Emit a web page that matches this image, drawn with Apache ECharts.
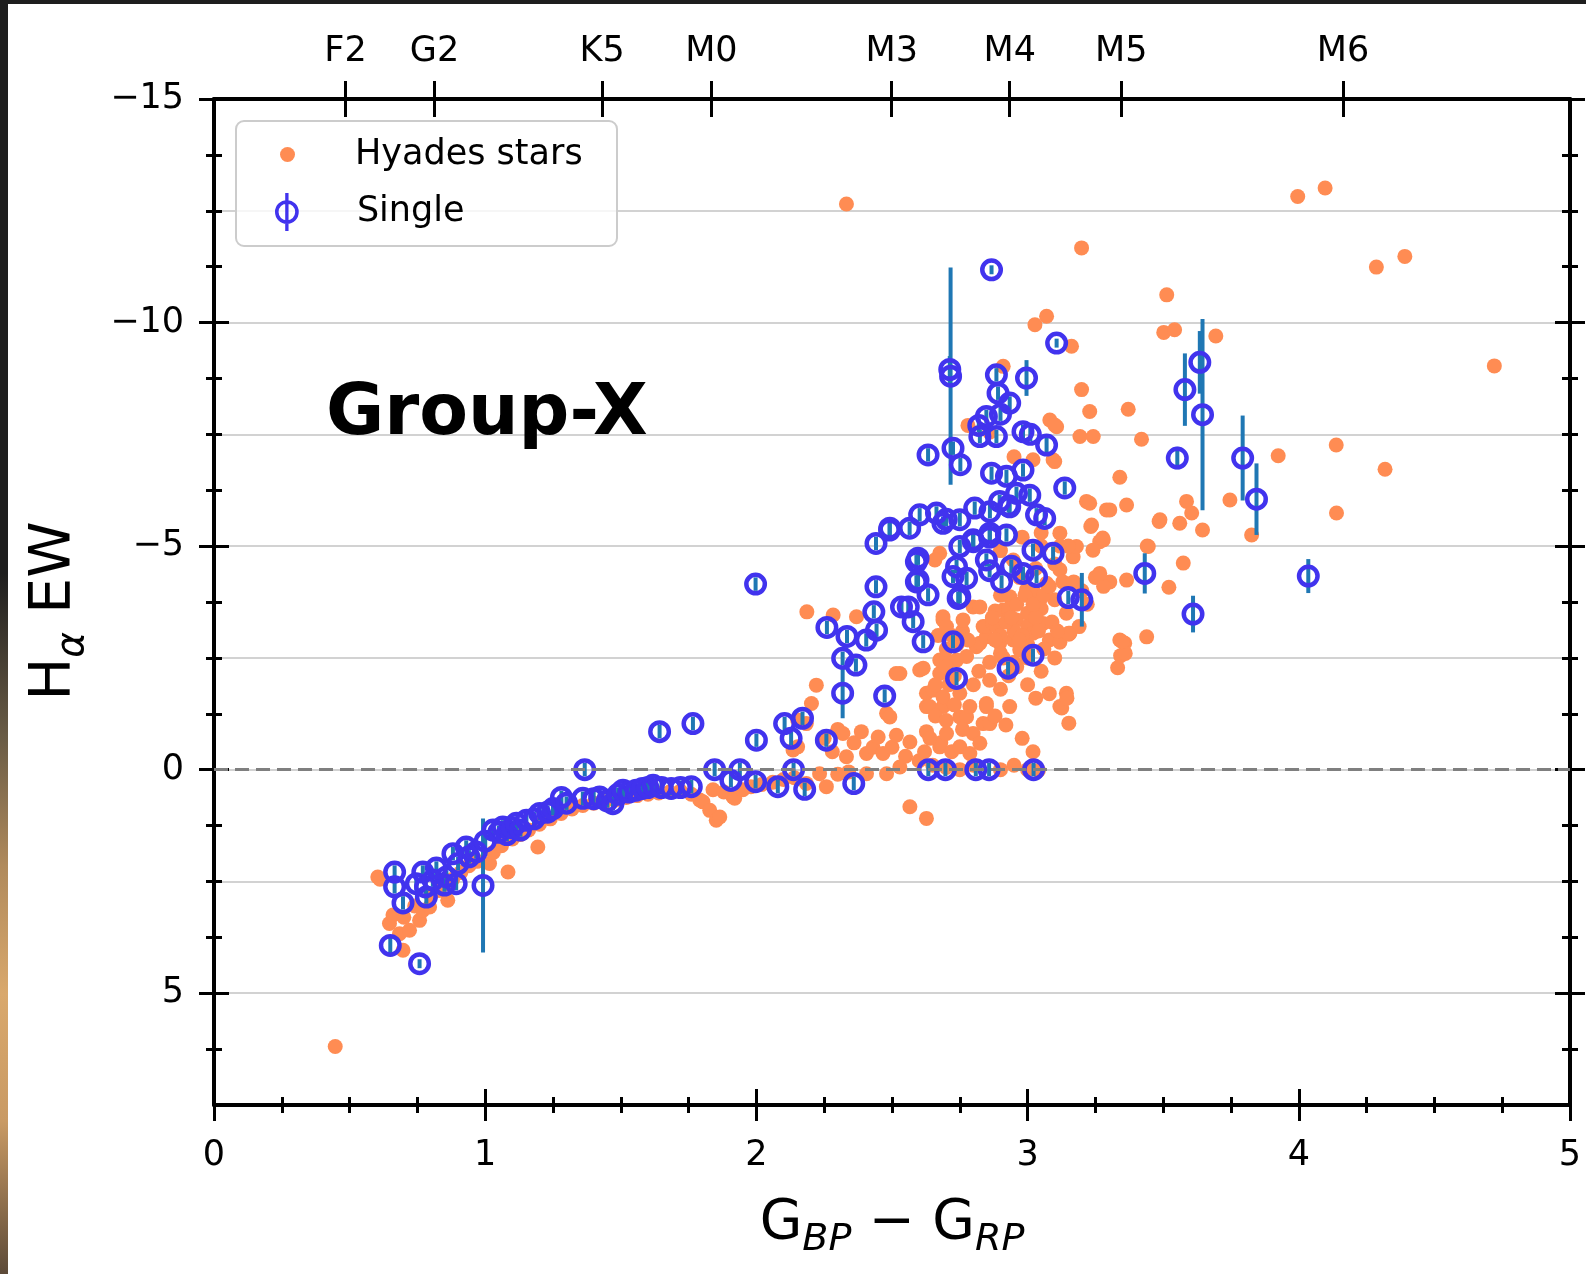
<!DOCTYPE html>
<html>
<head>
<meta charset="utf-8">
<title>Group-X</title>
<script src="https://cdn.jsdelivr.net/npm/echarts@6.0.0/dist/echarts.min.js"></script>
<style>
  html, body { margin: 0; padding: 0; width: 1586px; height: 1274px; overflow: hidden; background: #1e1e1e; }
  #edge { position: absolute; left: 0; top: 0; width: 8px; height: 1274px;
          background: linear-gradient(to bottom, #1e1e1e 0%, #1e1e1e 45%, #6a5c46 58%, #b08a5c 68%, #d9a86c 78%, #c99a64 88%, #5c4a38 100%); }
  #main { position: absolute; left: 8px; top: 4px; width: 1578px; height: 1270px; background: #fff; }
</style>
</head>
<body>
<div id="edge"></div>
<div id="main"></div>
<script>
// Hyades stars (G_BP - G_RP, H-alpha EW)
var hyadesLower = [
  [0.447,6.19],[0.604,2.40],[0.612,2.45],[0.647,3.44],[0.66,3.25],[0.684,3.67],[0.697,4.04],[0.70,3.30],
  [0.721,3.59],[0.74,3.05],[0.758,3.37],[0.77,3.15],[0.795,3.07],[0.80,2.80],[0.83,2.70],[0.862,2.92],
  [0.86,2.55],[0.88,2.45],[0.91,2.30],[0.94,2.15],[0.97,2.05],[1.016,2.10],[1.03,1.85],[1.06,1.70],
  [1.084,2.29],[1.10,1.55],[1.13,1.45],[1.16,1.35],[1.194,1.73],[1.20,1.22],[1.24,1.10],[1.28,0.98],
  [1.32,0.88],[1.36,0.80],[1.40,0.75],[1.44,0.72],[1.48,0.68],[1.52,0.62],[1.56,0.58],[1.60,0.55],
  [1.64,0.52],[1.68,0.50],[1.72,0.48],[1.76,0.55],[1.791,0.68],[1.803,0.72],[1.828,0.91],[1.852,1.13],
  [1.84,0.45],[1.865,1.06],[1.88,0.50],[1.914,0.61],[1.920,0.64],[1.95,0.45],[1.98,0.38],[2.02,0.33],
  [2.06,0.28],[2.10,0.22],[2.14,0.18],[2.184,0.31],[2.233,0.09],[2.258,0.38],[2.30,0.10],[2.34,0.05]
];
var hyadesMiddle = [
  [2.135,-0.44],[2.152,-0.51],[2.152,-1.11],[2.184,-1.03],[2.203,-1.48],[2.221,-1.89],[2.186,-3.53],[2.283,-3.46],
  [2.369,-3.42],[2.25,-0.70],[2.28,-0.40],[2.30,-0.90],[2.319,-0.81],[2.332,-0.29],[2.36,-0.60],[2.387,-0.85],
  [2.406,-0.36],[2.406,0.09],[2.43,-0.50],[2.449,-0.73],[2.467,-0.36],[2.480,0.09],[2.480,-1.26],[2.492,-1.18],
  [2.50,-0.50],[2.516,-0.77],[2.529,-0.06],[2.529,-2.15],[2.515,-2.15],[2.55,-0.30],[2.566,-0.62],[2.566,0.83],
  [2.60,-0.20],[2.602,-2.23],[2.615,-2.27],[2.627,1.09],[2.62,-0.40],[2.627,-0.85],[2.627,-1.41],[2.627,-1.71],
  [2.639,-1.41],[2.652,-1.78],[2.65,-0.10],[2.676,-0.51],[2.676,-2.15],[2.676,-2.45],[2.68,-0.60],[2.688,-1.41],
  [2.688,-1.63],[2.70,-0.05],[2.701,-0.81],[2.701,-2.45],[2.72,-0.40],[2.738,-2.45],[2.750,-0.51],[2.750,-1.18],
  [2.750,-1.71],[2.75,0.0],[2.775,-1.18],[2.775,-2.53],[2.787,-0.36],[2.787,-1.41],[2.799,-0.81],[2.80,-0.10],
  [2.811,-2.75],[2.824,-0.59],[2.824,-2.83],[2.836,-1.03],[2.848,-1.41],[2.848,-1.48],[2.848,-2.97],[2.861,-1.03],
  [2.90,0.0],[2.934,-1.41],[2.95,-0.10],[3.00,0.0],[3.04,0.02],[2.88,-1.20],[2.92,-1.00],[2.98,-0.70],[3.02,-0.40],
  [2.67,-3.00],[2.70,-2.70],[2.72,-3.00],[2.74,-2.80],[2.76,-3.10],[2.78,-2.90],[2.70,-2.30],[2.73,-2.10],
  [2.66,-1.90],[2.71,-1.90],[2.66,-1.20],[2.70,-1.10],[2.73,-1.45],[2.76,-0.90],[2.64,-0.70]
];
var hyadesCluster = [
  [2.688,-3.35],[2.688,-3.42],[2.701,-3.20],[2.762,-3.35],[2.799,-3.64],[2.824,-3.64],[2.836,-3.20],[2.848,-3.20],
  [2.873,-3.27],[2.885,-3.20],[2.897,-2.83],[2.910,-3.57],[2.934,-3.87],[2.947,-2.90],[2.959,-3.35],[2.971,-2.68],
  [2.996,-4.02],[3.00,-3.50],[3.00,-3.20],[3.00,-2.80],[3.020,-3.05],[3.045,-3.79],[3.05,-3.60],[3.057,-3.27],
  [3.070,-4.17],[3.08,-2.90],[3.10,-3.80],[3.119,-4.47],[3.13,-4.20],[3.143,-3.50],[3.156,-3.05],[3.168,-4.76],
  [3.180,-4.99],[2.95,-3.10],[2.90,-2.60],[2.95,-2.40],[2.90,-3.90],[2.97,-4.30],[3.03,-4.50],[3.10,-4.60],
  [3.05,-5.00],[3.12,-5.00],[2.98,-5.20],[2.90,-4.90],[2.947,-4.69],[2.676,-4.84],[2.658,-4.69],[3.143,-1.71],
  [3.119,-1.41],[3.152,-1.04],[3.126,-1.38],[3.145,-1.60],[3.119,-2.85],[3.152,-3.03],[3.332,-2.28],[3.343,-2.55],
  [3.358,-2.83],[3.340,-2.90],[3.439,-2.97],[3.36,-2.60],[3.19,-3.20],[3.20,-4.00],[3.25,-4.30],[3.22,-3.70],
  [3.303,-4.20],[3.365,-4.24],[3.28,-4.10],[3.17,-4.20],[3.15,-5.00],[3.05,-5.30],[3.279,-5.14],[3.266,-5.10],
  [3.445,-4.99],[3.574,-4.62],[3.521,-4.08],[3.266,-4.39],[3.241,-4.91],[3.02,-4.00],[2.88,-3.55],[2.92,-3.30],
  [2.98,-3.00],[3.03,-3.40],[2.86,-2.40],[2.82,-2.20],[2.80,-1.90],[2.86,-2.00],[2.90,-1.80],[2.93,-2.10],
  [2.96,-2.30],[3.00,-2.50],[3.05,-2.20],[3.10,-2.50],[3.00,-1.90],[3.03,-1.60],[3.08,-1.70],[3.349,-2.86],[3.151,-3.05],
  [2.87,-3.40],[2.90,-3.00],[2.93,-3.60],[2.96,-3.70],[2.99,-3.90],[3.02,-3.70],[3.06,-3.90],[3.08,-4.10],
  [3.04,-3.10],[2.97,-2.90],[2.94,-3.40],[3.06,-2.70],[3.09,-3.30],[3.11,-3.10],[2.88,-2.90],[2.91,-2.50]
];
var hyadesUpper = [
  [3.020,-6.93],[3.094,-6.93],[3.100,-6.89],[3.119,-5.29],[3.217,-6.00],[3.291,-5.81],[3.236,-5.47],[3.229,-5.96],
  [3.303,-5.81],[3.365,-5.92],[3.233,-5.44],[3.277,-5.18],[3.340,-6.54],[3.107,-7.67],[3.082,-7.82],[3.100,-7.71],
  [3.193,-7.45],[3.242,-7.45],[3.229,-8.01],[3.199,-8.50],[3.162,-9.47],[3.027,-9.95],[3.070,-10.14],[3.199,-11.67],
  [2.910,-9.02],[3.371,-8.06],[3.420,-7.39],[2.332,-12.65],[2.86,-7.55],[2.95,-7.00],[2.78,-7.70]
];
var hyadesRed = [
  [3.996,-12.82],[4.097,-13.01],[4.286,-11.24],[4.391,-11.48],[4.721,-9.03],[3.513,-10.62],[3.502,-9.78],[3.542,-9.84],
  [3.694,-9.70],[4.138,-7.26],[4.318,-6.72],[3.924,-7.02],[4.139,-5.74],[3.485,-5.55],[3.561,-5.51],[3.586,-6.00],
  [3.605,-5.74],[3.645,-5.36],[3.746,-6.03],[3.826,-5.25],[3.441,-5.00],[3.488,-5.59]
];
var hyadesStars = hyadesLower.concat(hyadesMiddle, hyadesCluster, hyadesUpper, hyadesRed);

// Single stars: [G_BP - G_RP, H-alpha EW, error]
var singleLower = [
  [0.650,3.93,0.2],[0.758,4.34,0.1],[0.666,2.29,0.15],[0.770,2.29,0.15],[0.666,2.62,0.15],[0.697,2.98,0.15],
  [0.783,2.85,0.15],[0.746,2.55,0.15],[0.78,2.62,0.15],[0.807,2.47,0.15],[0.85,2.58,0.15],[0.857,2.40,0.15],
  [0.893,2.55,0.15],[0.82,2.20,0.15],[0.881,1.88,0.15],[0.90,2.10,0.15],[0.930,1.73,0.15],[0.94,1.95,0.15],
  [0.967,1.84,0.15],[0.992,2.59,1.5],[1.0,1.60,0.15],[1.029,1.35,0.15],[1.05,1.40,0.15],[1.065,1.28,0.15],
  [1.08,1.45,0.15],[1.10,1.30,0.15],[1.115,1.20,0.15],[1.13,1.35,0.15],[1.152,1.13,0.15],[1.18,1.10,0.15],
  [1.201,0.98,0.15],[1.23,0.95,0.15],[1.250,0.87,0.15],[1.281,0.62,0.15],[1.30,0.75,0.15],[1.360,0.64,0.15],
  [1.367,0.0,0.15],[1.40,0.65,0.15],[1.422,0.61,0.15],[1.45,0.70,0.15],[1.471,0.76,0.15],[1.49,0.55,0.15],
  [1.508,0.46,0.15],[1.53,0.50,0.15],[1.557,0.46,0.15],[1.58,0.42,0.15],[1.60,0.40,0.15],[1.619,0.35,0.15],
  [1.65,0.40,0.15],[1.686,0.42,0.15],[1.72,0.40,0.15],[1.760,0.38,0.15],[1.846,0.0,0.15],[1.643,-0.85,0.15],
  [1.766,-1.03,0.15]
];
var singleMiddle = [
  [1.997,-4.15,0.15],[1.906,0.24,0.15],[1.939,0.0,0.15],[1.997,0.27,0.15],[2.079,0.38,0.15],[2.137,0.0,0.15],
  [2.178,0.44,0.15],[2.359,0.31,0.15],[2.104,-1.03,0.15],[2.170,-1.15,0.15],[2.128,-0.70,0.15],[2.000,-0.66,0.15],
  [2.258,-0.66,0.15],[2.260,-3.18,0.15],[2.334,-2.98,0.15],[2.405,-2.90,0.15],[2.318,-2.49,0.15],[2.367,-2.34,0.15],
  [2.318,-1.71,0.56],[2.473,-1.65,0.15],[2.441,-4.09,0.15],[2.433,-3.53,0.15],[2.491,-5.36,0.15],[2.441,-5.06,0.15],
  [2.443,-3.12,0.15],[2.535,-3.64,0.15],[2.56,-3.64,0.15],[2.578,-3.31,0.15],[2.615,-2.86,0.15],[2.590,-4.20,0.15],
  [2.633,-3.91,0.15],[2.590,-4.65,0.15],[2.725,-2.86,0.15],[2.738,-2.04,0.15],[2.744,-3.83,0.15],[2.634,0.0,0.15],
  [2.697,0.0,0.15],[2.809,0.0,0.15],[2.858,0.0,0.15],[3.022,0.0,0.15],[2.928,-2.27,0.15],[3.020,-2.56,0.15]
];
var singleUpper = [
  [2.633,-7.04,0.15],[2.725,-7.19,0.15],[2.752,-6.82,0.15],[2.867,-6.63,0.15],[2.922,-6.56,0.15],[2.983,-6.70,0.15],
  [3.070,-7.26,0.2],[3.137,-6.30,0.15],[2.492,-5.40,0.15],[2.565,-5.40,0.15],[2.602,-5.70,0.15],[2.664,-5.74,0.15],
  [2.70,-5.60,0.15],[2.750,-5.59,0.15],[2.805,-5.85,0.15],[2.861,-5.77,0.15],[2.897,-6.00,0.15],[2.93,-5.90,0.15],
  [2.959,-6.18,0.15],[3.008,-6.14,0.15],[3.033,-5.70,0.15],[3.063,-5.62,0.15],[2.596,-4.73,0.15],[2.596,-4.24,0.15],
  [2.750,-4.99,0.15],[2.80,-5.10,0.15],[2.86,-5.20,0.15],[2.922,-5.25,0.15],[2.738,-4.54,0.15],[2.725,-4.32,0.15],
  [2.775,-4.28,0.15],[2.848,-4.69,0.15],[2.750,-3.87,0.15],[2.904,-4.20,0.15],[2.983,-4.39,0.15],[3.033,-4.32,0.15],
  [3.020,-4.91,0.15],[3.094,-4.84,0.15],[3.15,-3.85,0.15],[3.20,-3.80,0.6],
  [2.799,-5.14,0.15],[2.861,-5.29,0.15],[2.934,-5.88,0.15],[2.688,-5.51,0.15],[2.86,-4.45,0.15],[2.94,-4.55,0.15]
];
var singleTop = [
  [2.867,-11.18,0.1],[2.716,-8.80,2.43],[2.713,-8.95,0.3],[3.107,-9.54,0.1],[2.885,-8.83,0.15],[2.996,-8.76,0.4],
  [2.891,-8.42,0.15],[2.934,-8.20,0.15],[2.90,-7.95,0.15],[2.848,-7.90,0.15],[2.82,-7.70,0.15],[2.824,-7.45,0.15],
  [2.885,-7.45,0.15],[2.983,-7.56,0.15],[3.01,-7.50,0.15]
];
var singleRed = [
  [3.635,-9.11,0.7],[3.580,-8.50,0.81],[3.645,-7.94,2.14],[3.552,-6.97,0.25],[3.793,-6.97,0.95],[3.844,-6.05,0.8],
  [3.432,-4.39,0.45],[3.610,-3.48,0.41],[4.035,-4.33,0.38]
];
var singleStars = singleLower.concat(singleMiddle, singleUpper, singleTop, singleRed);

// tick values
var xMajor = [0, 1, 2, 3, 4, 5];
var xMinor = [0.25,0.5,0.75,1.25,1.5,1.75,2.25,2.5,2.75,3.25,3.5,3.75,4.25,4.5,4.75];
var yMajor = [-15, -10, -5, 0, 5];
var yMinor = [-13.75,-12.5,-11.25,-8.75,-7.5,-6.25,-3.75,-2.5,-1.25,1.25,2.5,3.75,6.25];
var specNames = ['F2', 'G2', 'K5', 'M0', 'M3', 'M4', 'M5', 'M6'];
var specPos = [0.485, 0.813, 1.431, 1.834, 2.499, 2.934, 3.345, 4.163];

var myChart = echarts.init(document.getElementById('main'));
var FONT = 'DejaVu Sans';
var BLUE = '#4133ee';

function minus(v) { return String(v).replace('-', '\u2212'); }

// one axis that only draws ticks (used in pairs so ticks cross the spine)
function tickX(pos, inside, vals, len) {
  return {
    type: 'value', position: pos, min: 0, max: 5,
    axisLine: {show: false, onZero: false},
    axisTick: {show: true, inside: inside, length: len, customValues: vals, lineStyle: {color: '#000', width: 3}},
    axisLabel: {show: false}, splitLine: {show: false}
  };
}
function tickY(pos, inside, vals, len) {
  return {
    type: 'value', position: pos, min: -15, max: 7.5, inverse: true,
    axisLine: {show: false, onZero: false},
    axisTick: {show: true, inside: inside, length: len, customValues: vals, lineStyle: {color: '#000', width: 3}},
    axisLabel: {show: false}, splitLine: {show: false}
  };
}
function spine() {
  return {show: true, onZero: false, lineStyle: {color: '#000', width: 4}};
}

var xBottom = tickX('bottom', false, xMajor, 16);
xBottom.axisLine = spine();
xBottom.axisLabel = {show: true, customValues: xMajor, fontSize: 35, color: '#000', margin: 33, fontFamily: FONT};
xBottom.name = '{g|G}{s|BP}{g| \u2212 G}{s|RP}';
xBottom.nameLocation = 'middle';
xBottom.nameGap = 91;
xBottom.nameTextStyle = {
  fontFamily: FONT, color: '#000',
  rich: {
    g: {fontSize: 55, lineHeight: 64, verticalAlign: 'top', fontFamily: FONT, color: '#000'},
    s: {fontSize: 38, fontStyle: 'italic', lineHeight: 40, padding: [25, 0, 0, 0], verticalAlign: 'top', fontFamily: FONT, color: '#000'}
  }
};

var xTop = tickX('top', false, specPos, 18);
xTop.axisLine = spine();
xTop.axisLabel = {
  show: true, customValues: specPos, fontSize: 35, color: '#000', margin: 30, fontFamily: FONT,
  formatter: function (v) {
    var best = 0;
    for (var i = 1; i < specPos.length; i++) {
      if (Math.abs(specPos[i] - v) < Math.abs(specPos[best] - v)) best = i;
    }
    return specNames[best];
  }
};

var yLeft = tickY('left', false, yMajor, 15);
yLeft.axisLine = spine();
yLeft.axisLabel = {show: true, customValues: yMajor, fontSize: 35, color: '#000', margin: 30, fontFamily: FONT, formatter: minus};
yLeft.name = '{h|H}{a|\u03b1}{h| EW}';
yLeft.nameLocation = 'middle';
yLeft.nameRotate = 90;
yLeft.nameGap = 121;
yLeft.nameTextStyle = {
  fontFamily: FONT, color: '#000', padding: [0, 18, 0, 0],
  rich: {
    h: {fontSize: 57, lineHeight: 66, verticalAlign: 'top', fontFamily: FONT, color: '#000'},
    a: {fontSize: 39, fontStyle: 'italic', lineHeight: 42, padding: [26, 0, 0, 0], verticalAlign: 'top', fontFamily: FONT, color: '#000'}
  }
};

var yRight = tickY('right', false, yMajor, 15);
yRight.axisLine = spine();

// horizontal grid lines every 2.5
var yGrid = {
  type: 'value', position: 'left', min: -15, max: 7.5, interval: 2.5, inverse: true,
  axisLine: {show: false, onZero: false}, axisTick: {show: false}, axisLabel: {show: false},
  splitLine: {show: true, lineStyle: {color: '#d2d2d2', width: 2}}
};

var ringIcon = 'path://M0,-10 A10,10 0 1,1 0,10 A10,10 0 1,1 0,-10 Z M0,-7 A7,7 0 1,0 0,7 A7,7 0 1,0 0,-7 Z M-1.4,-16 L1.4,-16 L1.4,16 L-1.4,16 Z';

var option = {
  animation: false,
  backgroundColor: '#fff',
  textStyle: {fontFamily: FONT},
  title: {
    text: 'Group-X', left: 313, top: 371,
    textStyle: {fontSize: 71, fontWeight: 'bold', color: '#000', fontFamily: FONT}
  },
  grid: {left: 206, top: 95, width: 1356, height: 1006, containLabel: false, outerBoundsMode: 'none'},
  xAxis: [xBottom, tickX('bottom', true, xMajor, 16), tickX('bottom', false, xMinor, 8), tickX('bottom', true, xMinor, 8),
          xTop, tickX('top', true, specPos, 18)],
  yAxis: [yLeft, tickY('left', true, yMajor, 15), tickY('left', false, yMinor, 8), tickY('left', true, yMinor, 8),
          yRight, tickY('right', true, yMajor, 15), tickY('right', false, yMinor, 8), tickY('right', true, yMinor, 8),
          yGrid],
  graphic: [{
    type: 'rect', z: 5,
    shape: {x: 228, y: 117, width: 381, height: 125, r: 8},
    style: {fill: 'rgba(255,255,255,0.8)', stroke: '#cccccc', lineWidth: 2}
  }],
  legend: [{
    data: [{name: 'Hyades stars', icon: 'circle'}],
    left: 272, top: 133, padding: 0, z: 6, selectedMode: false,
    itemWidth: 15, itemHeight: 15,
    textStyle: {fontSize: 35, color: '#000', fontFamily: FONT, padding: [0, 0, 0, 55]}
  }, {
    data: [{name: 'Single', icon: ringIcon, itemStyle: {color: BLUE, borderColor: BLUE, borderWidth: 0}}],
    left: 267, top: 189, padding: 0, z: 6, selectedMode: false,
    itemWidth: 24, itemHeight: 38,
    textStyle: {fontSize: 35, color: '#000', fontFamily: FONT, padding: [0, 0, 0, 53]}
  }],
  series: [{
    name: 'Hyades stars', type: 'scatter', xAxisIndex: 0, yAxisIndex: 0, z: 2,
    symbol: 'circle', symbolSize: 15,
    itemStyle: {color: '#ff8c53', opacity: 1},
    data: hyadesStars,
    markLine: {
      silent: true, symbol: 'none', label: {show: false},
      lineStyle: {color: '#7f7f7f', width: 3, type: [14, 7]},
      data: [{yAxis: 0}]
    }
  }, {
    // error bars of the single stars
    type: 'custom', xAxisIndex: 0, yAxisIndex: 0, z: 3, silent: true,
    encode: {x: 0, y: 1},
    renderItem: function (params, api) {
      var x = api.value(0), y = api.value(1), e = api.value(2);
      var p1 = api.coord([x, y - e]);
      var p2 = api.coord([x, y + e]);
      return {
        type: 'line',
        shape: {x1: p1[0], y1: p1[1], x2: p2[0], y2: p2[1]},
        style: {stroke: '#1f77b4', lineWidth: 4}
      };
    },
    data: singleStars
  }, {
    name: 'Single', type: 'scatter', xAxisIndex: 0, yAxisIndex: 0, z: 4,
    symbol: 'circle', symbolSize: 18.5,
    itemStyle: {color: 'rgba(0,0,0,0)', borderColor: BLUE, borderWidth: 4.5, opacity: 1},
    data: singleStars
  }]
};
myChart.setOption(option);
</script>
</body>
</html>
